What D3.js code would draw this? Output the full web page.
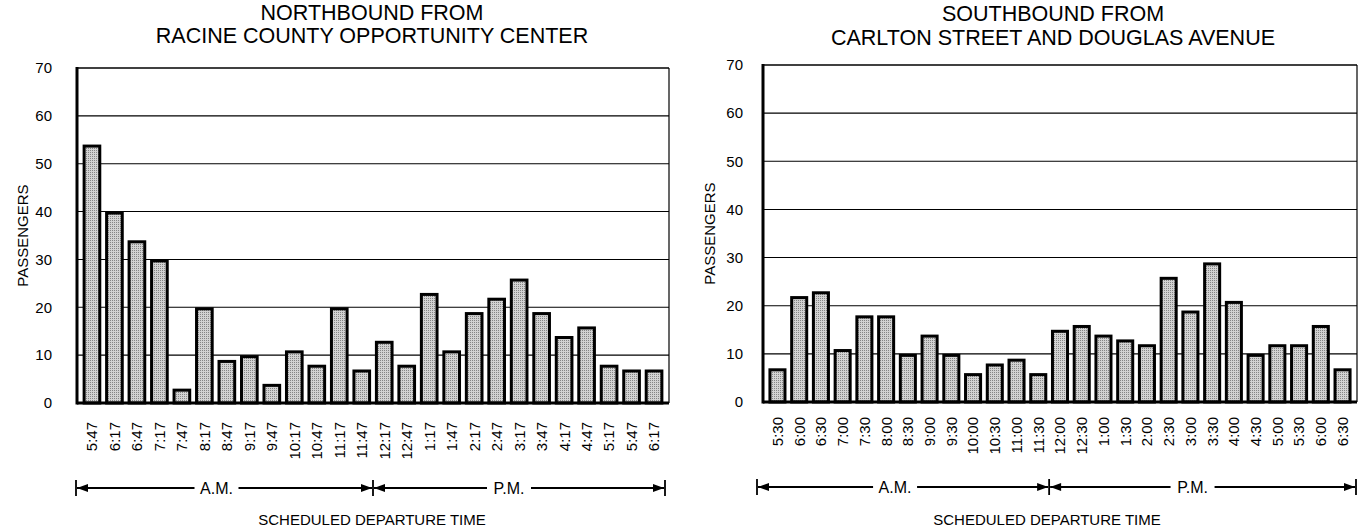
<!DOCTYPE html>
<html>
<head>
<meta charset="utf-8">
<script src="https://cdn.jsdelivr.net/npm/d3@7"></script>
<style>
  html, body { margin: 0; padding: 0; background: #fff; }
  svg { display: block; font-family: "Liberation Sans", Arial, Helvetica, sans-serif; }
</style>
</head>
<body>
<svg id="chart" width="1371" height="531"></svg>
<script>
// ---- data ----
const northTitle = ["NORTHBOUND FROM", "RACINE COUNTY OPPORTUNITY CENTER"];
const northLabels = ["5:47","6:17","6:47","7:17","7:47","8:17","8:47","9:17","9:47","10:17","10:47","11:17","11:47",
                     "12:17","12:47","1:17","1:47","2:17","2:47","3:17","3:47","4:17","4:47","5:17","5:47","6:17"];
const northValues = [54,40,34,30,3,20,9,10,4,11,8,20,7,13,8,23,11,19,22,26,19,14,16,8,7,7];

const southTitle = ["SOUTHBOUND FROM", "CARLTON STREET AND DOUGLAS AVENUE"];
const southLabels = ["5:30","6:00","6:30","7:00","7:30","8:00","8:30","9:00","9:30","10:00","10:30","11:00","11:30",
                     "12:00","12:30","1:00","1:30","2:00","2:30","3:00","3:30","4:00","4:30","5:00","5:30","6:00","6:30"];
const southValues = [7,22,23,11,18,18,10,14,10,6,8,9,6,15,16,14,13,12,26,19,29,21,10,12,12,16,7];

const yTicks = [0,10,20,30,40,50,60,70];
const amCount = 13;           // number of A.M. departures in each panel
const yAxisTitle = "PASSENGERS";
const xAxisTitle = "SCHEDULED DEPARTURE TIME";
const amText = "A.M.";
const pmText = "P.M.";

// ---- layout ----
const panels = [
  { title: northTitle, labels: northLabels, values: northValues,
    x0: 77, x1: 669, yTop: 68, yZero: 403, titleCx: 372, titleY: [20, 43],
    tickLabelX: 52, yTitleX: 28, catY: 422, arrowY: 488, arrowX0: 76, arrowX1: 665, xTitleCx: 372 },
  { title: southTitle, labels: southLabels, values: southValues,
    x0: 763, x1: 1357, yTop: 65, yZero: 402, titleCx: 1053, titleY: [21, 45],
    tickLabelX: 743, yTitleX: 715, catY: 417, arrowY: 487, arrowX0: 757, arrowX1: 1356, xTitleCx: 1047 }
];

const svg = d3.select("#chart");
const defs = svg.append("defs");
const pat = defs.append("pattern").attr("id", "stipple")
  .attr("width", 2).attr("height", 2).attr("patternUnits", "userSpaceOnUse");
pat.append("rect").attr("width", 2).attr("height", 2).attr("fill", "#d2d2d2");
pat.append("rect").attr("width", 1).attr("height", 1).attr("fill", "#858585");

function arrowHead(g, x, y, dir) {
  const L = 11, H = 4;
  g.append("path")
    .attr("d", `M${x},${y} L${x - dir * L},${y - H} L${x - dir * L},${y + H} Z`)
    .attr("fill", "#000");
}

panels.forEach(p => {
  const g = svg.append("g");
  const idx = d3.range(p.labels.length);
  const x = d3.scaleBand().domain(idx).range([p.x0, p.x1])
    .paddingInner(0.17).paddingOuter(0.25);
  const y = d3.scaleLinear().domain([0, 70]).range([p.yZero, p.yTop]);

  // titles
  p.title.forEach((t, i) => {
    g.append("text").attr("x", p.titleCx).attr("y", p.titleY[i])
      .attr("text-anchor", "middle").attr("font-size", 21.5).attr("fill", "#000").text(t);
  });

  // gridlines
  g.selectAll(".grid").data(yTicks.filter(d => d > 0)).join("line")
    .attr("x1", p.x0).attr("x2", p.x1)
    .attr("y1", d => y(d)).attr("y2", d => y(d))
    .attr("stroke", "#000").attr("stroke-width", d => d === 70 ? 1.6 : 1.1);

  // y tick labels
  g.selectAll(".ytl").data(yTicks).join("text")
    .attr("x", p.tickLabelX).attr("y", d => y(d)).attr("dy", "0.35em")
    .attr("text-anchor", "end").attr("font-size", 15).attr("fill", "#000")
    .text(d => d);

  // y axis title
  g.append("text")
    .attr("transform", `translate(${p.yTitleX},${(p.yTop + p.yZero) / 2}) rotate(-90)`)
    .attr("text-anchor", "middle").attr("font-size", 15).attr("fill", "#000")
    .text(yAxisTitle);

  // right border
  g.append("line").attr("x1", p.x1).attr("x2", p.x1).attr("y1", p.yTop).attr("y2", p.yZero)
    .attr("stroke", "#000").attr("stroke-width", 1.2);

  // bars
  const sw = 3;
  g.selectAll(".bar").data(p.values).join("rect")
    .attr("x", (d, i) => x(i) + sw / 2)
    .attr("width", x.bandwidth() - sw)
    .attr("y", d => y(d) + sw / 2)
    .attr("height", d => Math.max(0, y(0) - y(d) - sw / 2))
    .attr("fill", "url(#stipple)")
    .attr("stroke", "#000").attr("stroke-width", sw);

  // left axis & baseline
  g.append("line").attr("x1", p.x0).attr("x2", p.x0).attr("y1", p.yTop - 1).attr("y2", p.yZero + 1.5)
    .attr("stroke", "#000").attr("stroke-width", 3);
  g.append("line").attr("x1", p.x0).attr("x2", p.x1).attr("y1", p.yZero).attr("y2", p.yZero)
    .attr("stroke", "#000").attr("stroke-width", 3);

  // category labels (rotated)
  g.selectAll(".cat").data(p.labels).join("text")
    .attr("transform", (d, i) => `translate(${x(i) + x.bandwidth() / 2},${p.catY}) rotate(-90)`)
    .attr("dy", "0.36em")
    .attr("text-anchor", "end").attr("font-size", 15).attr("fill", "#000")
    .text(d => d);

  // A.M. / P.M. arrows
  const step = x.step();
  const divX = x(amCount - 1) + x.bandwidth() + (step - x.bandwidth()) / 2;
  const ay = p.arrowY;
  const segs = [
    { a: p.arrowX0, b: divX, label: amText },
    { a: divX, b: p.arrowX1, label: pmText }
  ];
  [p.arrowX0, divX, p.arrowX1].forEach(tx => {
    g.append("line").attr("x1", tx).attr("x2", tx).attr("y1", ay - 8).attr("y2", ay + 8)
      .attr("stroke", "#000").attr("stroke-width", 1.8);
  });
  segs.forEach((s, i) => {
    const mid = (s.a + s.b) / 2 - (i === 0 ? 8 : 10);
    const tw = 36, gap = 4;
    g.append("line").attr("x1", s.a + 1).attr("x2", mid - tw / 2 - gap).attr("y1", ay).attr("y2", ay)
      .attr("stroke", "#000").attr("stroke-width", 1.8);
    g.append("line").attr("x1", mid + tw / 2 + gap).attr("x2", s.b - 1).attr("y1", ay).attr("y2", ay)
      .attr("stroke", "#000").attr("stroke-width", 1.8);
    arrowHead(g, s.a + 1, ay, -1);
    arrowHead(g, s.b - 1, ay, 1);
    g.append("text").attr("x", mid).attr("y", ay).attr("dy", "0.36em")
      .attr("text-anchor", "middle").attr("font-size", 16).attr("fill", "#000")
      .text(s.label);
  });

  // x axis title
  g.append("text").attr("x", p.xTitleCx).attr("y", 525)
    .attr("text-anchor", "middle").attr("font-size", 15).attr("fill", "#000")
    .text(xAxisTitle);
});
</script>
</body>
</html>
